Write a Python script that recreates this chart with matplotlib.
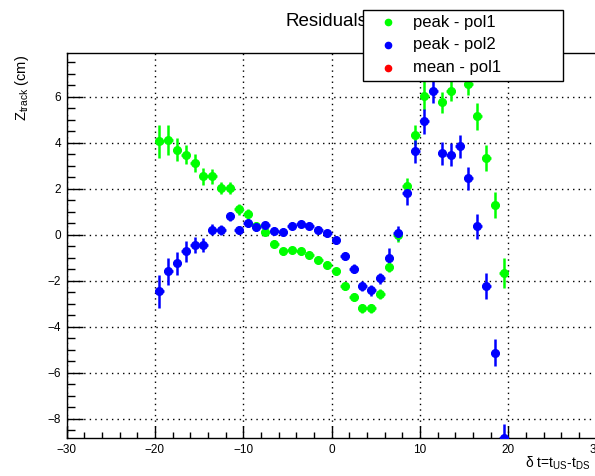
import matplotlib
matplotlib.use('Agg')
import matplotlib.pyplot as plt
from matplotlib.lines import Line2D
from matplotlib.patches import Rectangle
from matplotlib.ticker import MultipleLocator

plt.rcParams['font.family'] = ['Liberation Sans', 'DejaVu Sans']
plt.rcParams['mathtext.fontset'] = 'custom'
plt.rcParams['mathtext.rm'] = 'Liberation Sans'
plt.rcParams['mathtext.it'] = 'Liberation Sans:italic'

# bin centres of delta t
dt = [-19.5, -18.5, -17.5, -16.5, -15.5, -14.5, -13.5, -12.5, -11.5, -10.5,
      -9.5, -8.5, -7.5, -6.5, -5.5, -4.5, -3.5, -2.5, -1.5, -0.5,
      0.5, 1.5, 2.5, 3.5, 4.5, 5.5, 6.5, 7.5, 8.5, 9.5,
      10.5, 11.5, 12.5, 13.5, 14.5, 15.5, 16.5, 17.5, 18.5, 19.5]
dt_err = [0.5] * len(dt)

# peak - pol1 (green)
peak_pol1 = [4.06, 4.13, 3.70, 3.48, 3.12, 2.54, 2.54, 2.03, 2.03, 1.10,
             0.92, 0.36, 0.14, -0.38, -0.72, -0.66, -0.72, -0.89, -1.10, -1.30,
             -1.59, -2.22, -2.71, -3.19, -3.19, -2.59, -1.38, -0.03, 2.13, 4.35,
             6.05, 7.50, 5.75, 6.23, 7.50, 6.57, 5.14, 3.33, 1.30, -1.67]
peak_pol1_err = [0.72, 0.65, 0.50, 0.42, 0.40, 0.36, 0.33, 0.26, 0.25, 0.22,
                 0.20, 0.18, 0.16, 0.15, 0.15, 0.14, 0.14, 0.14, 0.14, 0.15,
                 0.15, 0.16, 0.18, 0.20, 0.20, 0.22, 0.25, 0.28, 0.35, 0.43,
                 0.65, 0.55, 0.45, 0.43, 0.50, 0.50, 0.58, 0.58, 0.57, 0.65]

# peak - pol2 (blue)
peak_pol2 = [-2.46, -1.59, -1.23, -0.72, -0.43, -0.43, 0.22, 0.22, 0.80, 0.22,
             0.51, 0.33, 0.41, 0.18, 0.14, 0.40, 0.47, 0.40, 0.22, 0.07,
             -0.22, -0.91, -1.47, -2.22, -2.42, -1.90, -1.03, 0.07, 1.81, 3.62,
             4.93, 6.23, 3.55, 3.48, 3.84, 2.46, 0.36, -2.22, -5.12, -8.84]
peak_pol2_err = [0.72, 0.60, 0.50, 0.45, 0.35, 0.30, 0.25, 0.22, 0.20, 0.18,
                 0.16, 0.15, 0.15, 0.14, 0.14, 0.14, 0.14, 0.14, 0.15, 0.15,
                 0.16, 0.18, 0.20, 0.22, 0.22, 0.25, 0.45, 0.30, 0.50, 0.50,
                 0.55, 0.50, 0.50, 0.50, 0.50, 0.50, 0.55, 0.55, 0.58, 0.60]

legend_labels = ['peak - pol1', 'peak - pol2', 'mean - pol1']
legend_colors = ['#00ff00', '#0000ff', '#ff0000']

W, H = 595, 476
fig = plt.figure(figsize=(W / 100, H / 100), dpi=100)
ax = fig.add_axes([66.5 / W, 38 / H, 530 / W, 385.3 / H])

for y, yerr, col in [(peak_pol1, peak_pol1_err, legend_colors[0]),
                     (peak_pol2, peak_pol2_err, legend_colors[1])]:
    ax.errorbar(dt, y, yerr=yerr, xerr=dt_err, fmt='o', color=col,
                markersize=5.5, elinewidth=1.8, capsize=0, zorder=3)

ax.set_xlim(-30, 30)
ax.set_ylim(-8.83, 7.91)
ax.xaxis.set_major_locator(MultipleLocator(10))
ax.xaxis.set_minor_locator(MultipleLocator(2))
ax.yaxis.set_major_locator(MultipleLocator(2))
ax.yaxis.set_minor_locator(MultipleLocator(0.5))
ax.tick_params(axis='x', which='major', direction='in', length=8.3, width=1, labelsize=8.5, pad=4)
ax.tick_params(axis='x', which='minor', direction='in', length=4.1, width=1)
ax.tick_params(axis='y', which='major', direction='in', length=11.5, width=1, labelsize=8.5, pad=4)
ax.tick_params(axis='y', which='minor', direction='in', length=5.8, width=1)
ax.grid(True, which='major', color='black', linestyle=(0, (1, 3)), linewidth=1)
ax.set_axisbelow(True)
for sp in ax.spines.values():
    sp.set_linewidth(1)

# title and axis labels, ROOT style
fig.text(326 / W, 1 - 22 / H, 'Residuals', ha='center', va='center', fontsize=13.5)
fig.text(22 / W, 1 - 55 / H, r'$\mathrm{Z_{track}}$ (cm)', rotation=90,
         ha='center', va='top', fontsize=10.5)
fig.text(590 / W, 1 - 463 / H, 'δ t=t$_{\\rm US}$-t$_{\\rm DS}$',
         ha='right', va='center', fontsize=10)

# legend box
box = Rectangle((363 / W, 1 - 81 / H), 200 / W, 71 / H, transform=fig.transFigure,
                facecolor='white', edgecolor='black', linewidth=1, zorder=5)
fig.add_artist(box)
for i, (lab, col) in enumerate(zip(legend_labels, legend_colors)):
    yy = 1 - (22 + i * 23) / H
    fig.add_artist(Line2D([388 / W], [yy], marker='o', markersize=4.5, color=col,
                          linestyle='none', transform=fig.transFigure, zorder=6))
    fig.text(413 / W, yy, lab, ha='left', va='center', fontsize=12, zorder=6)

fig.savefig('out.png', dpi=100)
